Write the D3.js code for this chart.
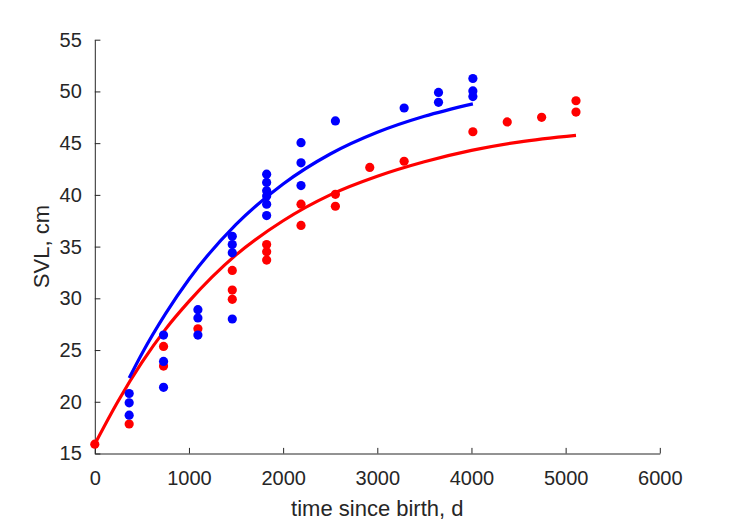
<!DOCTYPE html>
<html>
<head>
<meta charset="utf-8">
<script src="https://cdn.jsdelivr.net/npm/d3@7"></script>
<style>
  html, body { margin: 0; padding: 0; background: #ffffff; }
  svg { display: block; }
  text { font-family: "Liberation Sans", Arial, Helvetica, sans-serif; fill: #262626; }
</style>
</head>
<body>
<script>
// ---- data ----
const redT   = [0, 365, 730, 730, 1095, 1460, 1460, 1460, 1825, 1825, 1825, 2190, 2190, 2555, 2555, 2920, 3285, 4015, 4380, 4745, 5110, 5110];
const redSVL = [15.9, 17.85, 25.35, 23.45, 27.05, 32.7, 30.8, 29.9, 35.2, 34.5, 33.7, 39.1, 37.05, 40.05, 38.9, 42.65, 43.25, 46.1, 47.05, 47.5, 49.1, 48.0];

const blueT   = [365, 365, 365, 730, 730, 730, 1095, 1095, 1095, 1460, 1460, 1460, 1460,
                 1825, 1825, 1825, 1825, 1825, 1825, 2190, 2190, 2190, 2555, 3285, 3650, 3650, 4015, 4015, 4015];
const blueSVL = [20.8, 19.9, 18.7, 26.45, 23.9, 21.4, 28.9, 28.1, 26.45, 36.0, 35.2, 34.4, 28.0,
                 42.0, 41.2, 40.4, 39.9, 39.1, 38.0, 45.05, 43.1, 40.9, 47.15, 48.4, 49.9, 48.95, 51.25, 50.05, 49.5];

const redCurveT   = [0, 250, 500, 750, 1000, 1500, 2000, 2500, 3000, 3500, 4000, 4500, 5110];
const redCurveSVL = [15.9, 20.1, 23.8, 27.0, 29.7, 34.2, 37.5, 40.0, 41.8, 43.2, 44.3, 45.1, 45.75];

const blueCurveT   = [365, 500, 750, 1000, 1500, 2000, 2500, 3000, 3500, 4015];
const blueCurveSVL = [22.3, 24.65, 28.5, 31.85, 37.15, 41.05, 43.95, 46.05, 47.6, 48.8];

const xTicks = [0, 1000, 2000, 3000, 4000, 5000, 6000];
const yTicks = [15, 20, 25, 30, 35, 40, 45, 50, 55];
const xLabel = "time since birth, d";
const yLabel = "SVL, cm";

// ---- layout ----
const W = 729, H = 521;
const L = 94.8, R = 659.8, T = 39.7, B = 453.5;
const axisColor = "#262626";

const svg = d3.select("body").append("svg").attr("width", W).attr("height", H);
svg.append("rect").attr("width", W).attr("height", H).attr("fill", "#ffffff");

const x = d3.scaleLinear().domain([0, 6000]).range([L, R]);
const y = d3.scaleLinear().domain([15, 55]).range([B, T]);

// axes
const xAxis = d3.axisBottom(x).tickValues(xTicks).tickFormat(d3.format("d")).tickSizeInner(-5.6).tickSizeOuter(0).tickPadding(17);
const yAxis = d3.axisLeft(y).tickValues(yTicks).tickFormat(d3.format("d")).tickSizeInner(-5.6).tickSizeOuter(0).tickPadding(13);

const gx = svg.append("g").attr("transform", `translate(0,${B})`).call(xAxis);
const gy = svg.append("g").attr("transform", `translate(${L},0)`).call(yAxis);
[gx, gy].forEach(g => {
  g.select(".domain").attr("stroke", axisColor).attr("stroke-width", 1);
  g.selectAll(".tick line").attr("stroke", axisColor).attr("stroke-width", 1);
  g.selectAll(".tick text").attr("fill", axisColor).style("font-size", "20px")
    .style("font-family", '"Liberation Sans", Arial, Helvetica, sans-serif');
});
gx.selectAll(".tick text").attr("dy", "0.71em");

svg.append("text").attr("x", (L + R) / 2).attr("y", 516).attr("text-anchor", "middle")
  .style("font-size", "22px").text(xLabel);
svg.append("text").attr("transform", `translate(49,${(T + B) / 2}) rotate(-90)`).attr("text-anchor", "middle")
  .style("font-size", "22px").text(yLabel);

// curves
const line = d3.line().x(d => x(d[0])).y(d => y(d[1])).curve(d3.curveMonotoneX);
const plot = svg.append("g");
plot.append("path").datum(redCurveT.map((t, i) => [t, redCurveSVL[i]]))
  .attr("d", line).attr("fill", "none").attr("stroke", "#ff0000").attr("stroke-width", 3.2);
plot.append("path").datum(blueCurveT.map((t, i) => [t, blueCurveSVL[i]]))
  .attr("d", line).attr("fill", "none").attr("stroke", "#0000ff").attr("stroke-width", 3.2);

// points
plot.append("g").selectAll("circle").data(redT.map((t, i) => [t, redSVL[i]])).join("circle")
  .attr("cx", d => x(d[0])).attr("cy", d => y(d[1])).attr("r", 4.6).attr("fill", "#ff0000");
plot.append("g").selectAll("circle").data(blueT.map((t, i) => [t, blueSVL[i]])).join("circle")
  .attr("cx", d => x(d[0])).attr("cy", d => y(d[1])).attr("r", 4.6).attr("fill", "#0000ff");
</script>
</body>
</html>
